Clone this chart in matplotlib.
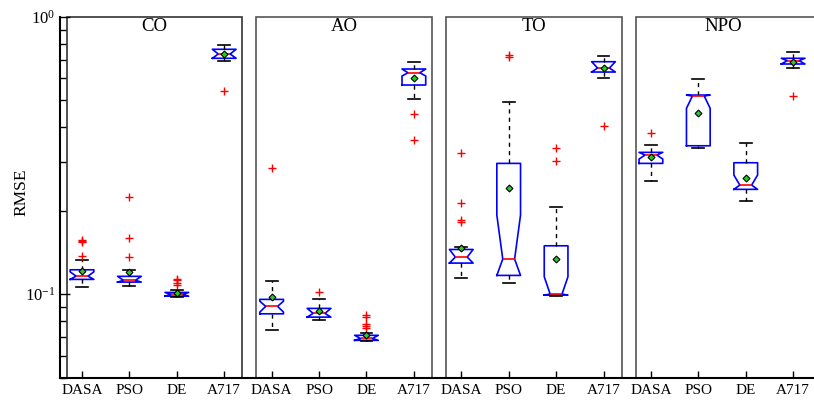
import matplotlib
matplotlib.use('Agg')
import matplotlib.pyplot as plt
from matplotlib.patches import Rectangle
from matplotlib.ticker import FixedLocator, NullFormatter, LogFormatterMathtext
import matplotlib.transforms as mtransforms

plt.rcParams['font.family'] = ['Liberation Serif', 'DejaVu Serif']
plt.rcParams['mathtext.fontset'] = 'stix'

problems = ['CO', 'AO', 'TO', 'NPO']
algorithms = ['DASA', 'PSO', 'DE', 'A717']

# order: CO(DASA,PSO,DE,A717), AO(...), TO(...), NPO(...)
whishi = [0.1330, 0.1224, 0.1031, 0.7923,
          0.1114, 0.0959, 0.0725, 0.6897,
          0.1482, 0.4945, 0.2066, 0.7248,
          0.3450, 0.5972, 0.3499, 0.7457]
q3 = [0.1224, 0.1159, 0.1014, 0.7647,
      0.0957, 0.0888, 0.0710, 0.6490,
      0.1449, 0.2963, 0.1494, 0.6897,
      0.3247, 0.5228, 0.2979, 0.7096]
med = [0.1161, 0.1121, 0.0997, 0.7354,
       0.0903, 0.0852, 0.0692, 0.6292,
       0.1360, 0.1338, 0.1000, 0.6544,
       0.3175, 0.5185, 0.2474, 0.6955]
q1 = [0.1130, 0.1105, 0.0983, 0.7096,
      0.0849, 0.0826, 0.0681, 0.5682,
      0.1294, 0.1168, 0.0992, 0.6330,
      0.2963, 0.3430, 0.2388, 0.6767]
whislo = [0.1063, 0.1071, 0.0975, 0.6955,
          0.0740, 0.0804, 0.0675, 0.5058,
          0.1139, 0.1099, 0.0986, 0.6006,
          0.2565, 0.3365, 0.2176, 0.6560]
means = [0.1208, 0.1201, 0.1006, 0.7333,
         0.0975, 0.0868, 0.0711, 0.6006,
         0.1472, 0.2419, 0.1338, 0.6544,
         0.3115, 0.4491, 0.2630, 0.6897]
cihi = [0.1203, 0.1159, 0.1014, 0.7647,
        0.0943, 0.0888, 0.0710, 0.6490,
        0.1449, 0.1929, 0.1155, 0.6897,
        0.3247, 0.5228, 0.2689, 0.7096]
cilo = [0.1130, 0.1105, 0.0983, 0.7096,
        0.0861, 0.0826, 0.0681, 0.6124,
        0.1294, 0.1168, 0.0992, 0.6330,
        0.3072, 0.4682, 0.2388, 0.6767]
fliers = [[0.1557, 0.1545, 0.1570, 0.1375], [0.2240, 0.1589, 0.1360],
          [0.1136, 0.1121, 0.1099, 0.1080], [0.5406],
          [0.2851], [0.1014], [0.0840, 0.0830, 0.0781, 0.0768, 0.0755],
          [0.4453, 0.3588],
          [0.3221, 0.2126, 0.1858, 0.1820], [0.7294, 0.7192],
          [0.3375, 0.3013], [0.4031],
          [0.3803], [], [], [0.5196]]

positions = list(range(1, 17))
labels = algorithms * len(problems)

stats = []
for i in range(16):
    stats.append(dict(med=med[i], q1=q1[i], q3=q3[i], whislo=whislo[i],
                      whishi=whishi[i], mean=means[i], cilo=cilo[i],
                      cihi=cihi[i], fliers=fliers[i]))

fig = plt.figure(figsize=(8.14, 4.01), dpi=100)
ax = fig.add_axes([60 / 814, 23 / 401, 754 / 814, 361 / 401])
ax.set_yscale('log')

ax.bxp(stats, positions=positions, widths=0.5, shownotches=True,
       showmeans=True, showfliers=True, manage_ticks=False,
       boxprops=dict(color='#0000ff', lw=1.2),
       medianprops=dict(color='#ff0000', lw=1.2),
       whiskerprops=dict(color='black', ls=(0, (3, 3)), lw=1.0),
       capprops=dict(color='black', lw=1.2),
       flierprops=dict(marker='+', markeredgecolor='#ff0000', markersize=6,
                       linestyle='none', markeredgewidth=1.0),
       meanprops=dict(marker='D', markerfacecolor='#22cc22',
                      markeredgecolor='black', markersize=3.5,
                      markeredgewidth=0.8))

ax.set_xlim(0.536, 16.44)
ax.set_ylim(0.0498, 1.0)

trans = mtransforms.blended_transform_factory(ax.transData, ax.transAxes)
for k, name in enumerate(problems):
    x0 = positions[4 * k] - 0.32
    x1 = positions[4 * k + 3] + (0.38 if k < 3 else 0.8)
    ax.add_patch(Rectangle((x0, 0), x1 - x0, 1, transform=trans, fill=False,
                           edgecolor='#333333' if k == 0 else '#555555',
                           lw=1.2, clip_on=False, zorder=0))
    xc = (x0 + positions[4 * k + 3] + 0.38) / 2
    ax.text(xc, 0.997, name, transform=trans, ha='center',
            va='top', fontsize=13.5)

ax.set_xticks(positions)
ax.set_xticklabels(labels, fontsize=11)
ax.yaxis.set_major_locator(FixedLocator([0.1, 1.0]))
ax.yaxis.set_major_formatter(LogFormatterMathtext())
ax.yaxis.set_minor_locator(FixedLocator([0.05, 0.06, 0.07, 0.08, 0.09, 0.2, 0.3,
                                         0.4, 0.5, 0.6, 0.7, 0.8, 0.9]))
ax.yaxis.set_minor_formatter(NullFormatter())
ax.tick_params(axis='x', direction='in', length=5, width=1.0, top=False,
               pad=4)
ax.tick_params(axis='y', which='major', direction='in', length=7, width=1.0,
               right=False, labelsize=12)
ax.tick_params(axis='y', which='minor', direction='in', length=4, width=1.0,
               right=False)
for s in ['top', 'right']:
    ax.spines[s].set_visible(False)
for s in ['left', 'bottom']:
    ax.spines[s].set_linewidth(1.5)

fig.text(21.5 / 814, 1 - 192.5 / 401, 'RMSE', rotation=90, ha='center',
         va='center', fontsize=12.5)

fig.savefig('out.png', dpi=100)
